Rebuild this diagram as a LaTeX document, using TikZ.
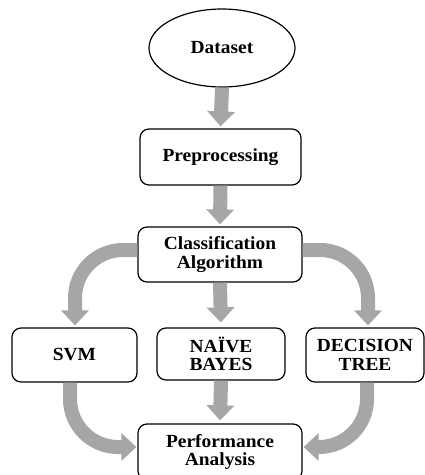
\documentclass[tikz,border=0pt]{standalone}
\usepackage{fontspec}
\setmainfont[FakeStretch=1.05]{Liberation Serif}
\usetikzlibrary{shapes.geometric,arrows.meta,calc}
\definecolor{arrowgray}{HTML}{A6A6A6}
\begin{document}
\begin{tikzpicture}[x=1pt,y=-1pt,
  every node/.style={font=\fontsize{18.5}{18.5}\selectfont\bfseries, align=center, inner sep=0pt},
  box/.style={draw=black, line width=1.2pt, rounded corners=9pt, fill=white},
  flow/.style={draw=arrowgray, line width=14pt, -{Triangle[width=27pt,length=15pt]}, shorten >=2pt},
  curvearrow/.style={flow, rounded corners=48pt}]
\useasboundingbox (0,0) rectangle (425,475);
\node[draw=black, line width=1.2pt, ellipse, minimum width=146pt, minimum height=78pt] (ds) at (222,48) {Dataset};
\node[box, minimum width=161pt, minimum height=56pt] (pre) at (220.5,157) {Preprocessing};
\node[box, minimum width=164pt, minimum height=55pt] (cls) at (220,254.5) {Classification\\Algorithm};
\node[box, minimum width=125pt, minimum height=54pt] (svm) at (74.5,355) {SVM};
\node[box, minimum width=128pt, minimum height=52pt] (nb) at (221,354) {NAÏVE\\BAYES};
\node[box, minimum width=118pt, minimum height=54pt] (dt) at (365,355) {DECISION\\TREE};
\node[box, minimum width=164pt, minimum height=56pt] (perf) at (220,452) {Performance\\Analysis};
\draw[flow] (ds.south) -- (pre.north);
\draw[flow] (pre.south) -- (cls.north);
\draw[flow, shorten >=5pt] (cls.south) -- (nb.north);
\draw[flow, shorten >=3pt] (nb.south) -- (perf.north);
\coordinate (cl) at ($(cls.west)+(0,-4.5)$);
\coordinate (cr) at ($(cls.east)+(0,-4.5)$);
\coordinate (st) at ($(svm.north)+(0.5,0)$);
\coordinate (dtt) at ($(dt.north)+(3,0)$);
\draw[curvearrow] (cl) -| (st);
\draw[curvearrow] (cr) -| (dtt);
\coordinate (pl) at ($(perf.west)+(0,-5)$);
\coordinate (pr) at ($(perf.east)+(0,-5)$);
\coordinate (sb) at ($(svm.south)+(-4.5,0)$);
\coordinate (db) at ($(dt.south)+(2,0)$);
\draw[curvearrow, shorten >=1pt] (sb) |- (pl);
\draw[curvearrow, shorten >=1pt] (db) |- (pr);
\end{tikzpicture}
\end{document}
